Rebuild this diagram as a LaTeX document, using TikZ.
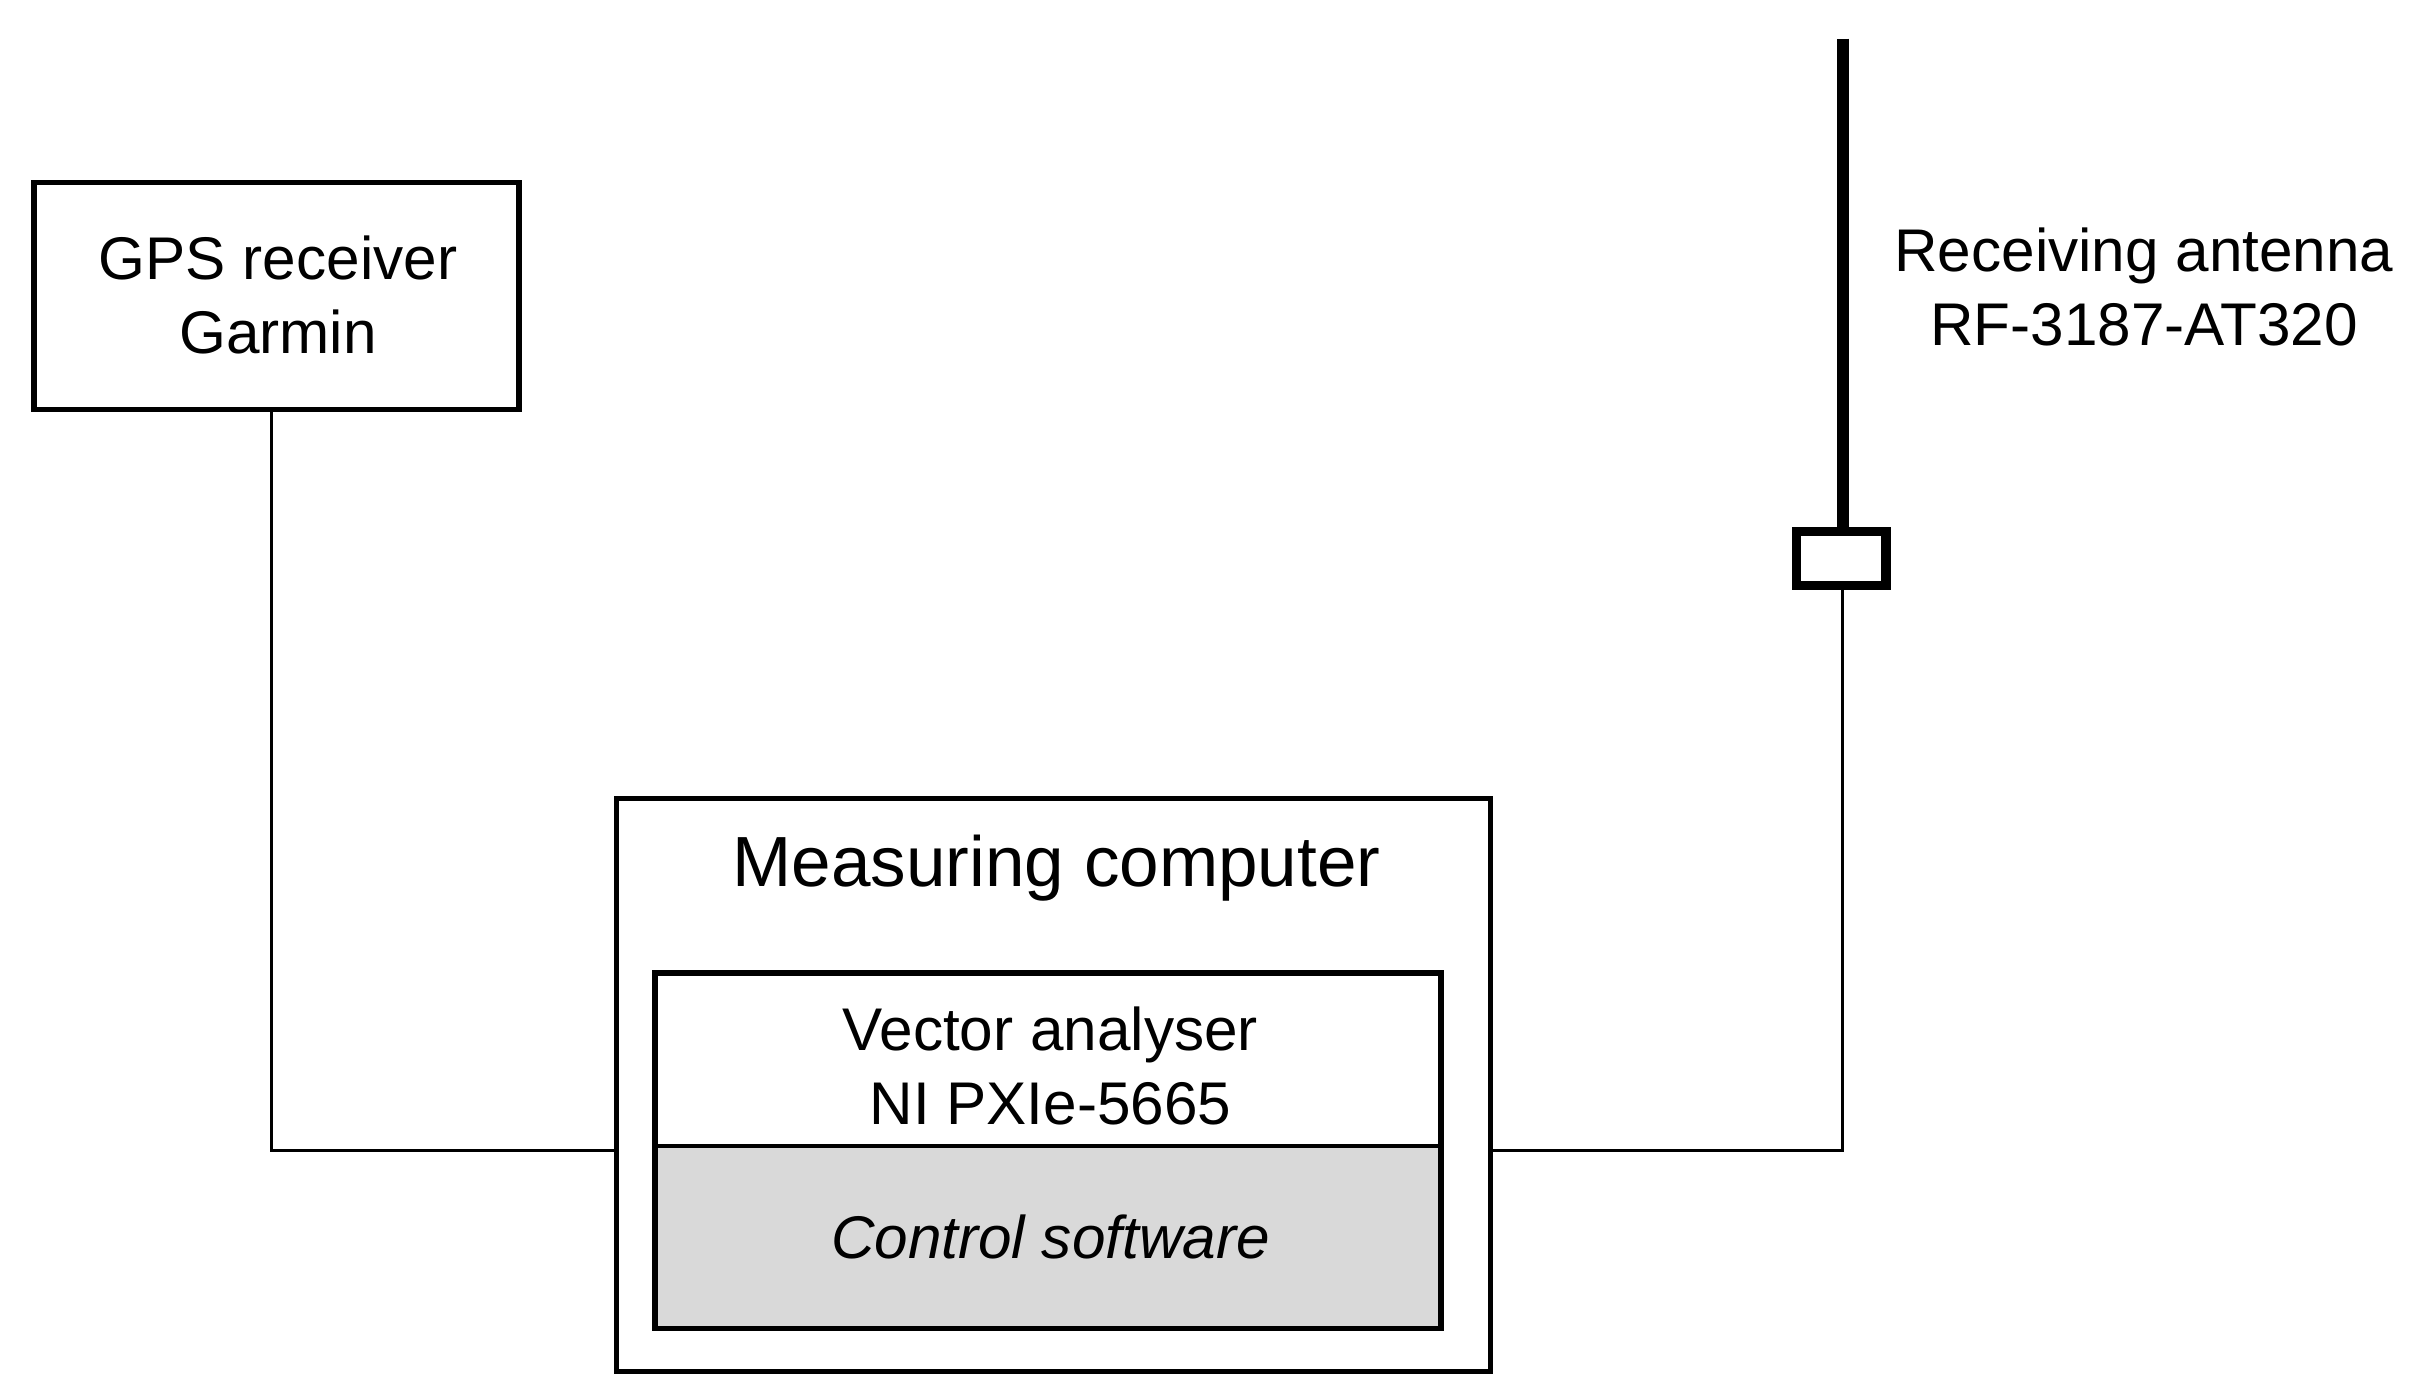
\documentclass[tikz,border=0pt]{standalone}
\usepackage{fontspec}
\setmainfont{Liberation Sans}
\begin{document}
\begin{tikzpicture}[x=1pt,y=-1pt,
  box/.style={draw,line width=3.5pt},
  wire/.style={draw,line width=1.8pt},
  txt/.style={align=center,font=\fontsize{39}{48}\selectfont}]
\useasboundingbox (0,0) rectangle (1568,905);
\draw[box] (22,118) rectangle (336,265);
\node[txt] (gps) at (180,191) {GPS receiver\\Garmin};
\draw[box] (399,517) rectangle (965,888);
\node[txt,font=\fontsize{46}{54}\selectfont] (mc) at (684,562) {Measuring computer};
\fill[gray!30] (424,742) rectangle (933,860);
\draw[box] (424,630) rectangle (933,860);
\draw[line width=3pt] (424,742) -- (933,742);
\node[txt] (va) at (680,690) {Vector analyser\\NI PXIe-5665};
\node[txt,font=\fontsize{39}{48}\selectfont\itshape] (cs) at (680,801) {Control software};
\draw[line width=8pt] (1193,25) -- (1193,343);
\draw[line width=6pt] (1163,344) rectangle (1221,379);
\node[txt] (ant) at (1388,186) {Receiving antenna\\RF-3187-AT320};
\coordinate (g) at (176,265);
\coordinate (a) at (1193,381);
\draw[wire] (g) -- (176,745) -- (399,745);
\draw[wire] (a) -- (1193,745) -- (965,745);
\end{tikzpicture}
\end{document}
